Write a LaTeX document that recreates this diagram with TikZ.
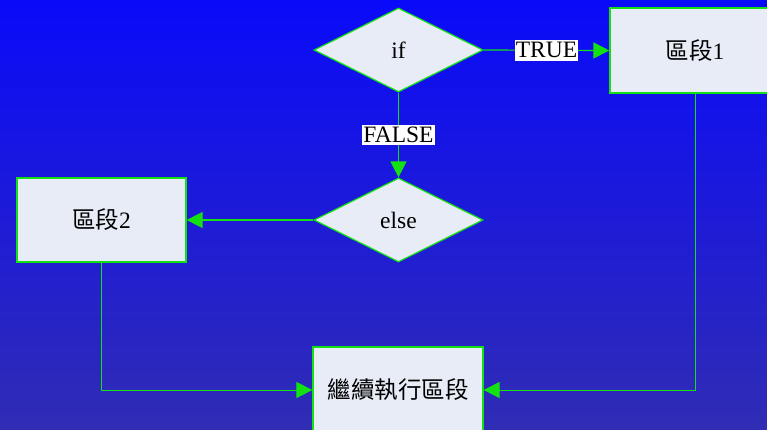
\documentclass[tikz,border=0pt]{standalone}
\usepackage{fontspec}
\setmainfont{Liberation Serif}
\newfontfamily\cjk{Noto Sans CJK TC}
\usetikzlibrary{shapes.geometric,arrows.meta}
\definecolor{bgtop}{RGB}{10,10,250}
\definecolor{bgbot}{RGB}{48,44,180}
\definecolor{boxfill}{RGB}{231,236,246}
\definecolor{lgreen}{RGB}{20,225,20}
\tikzset{
  x=1pt, y=-1pt,
  every node/.style={font=\fontsize{23.5}{26}\selectfont},
  decision/.style={diamond, draw=lgreen, line width=1.2pt, fill=boxfill, inner sep=0pt, minimum width=169pt, minimum height=84pt},
  blockbox/.style={rectangle, draw=lgreen, line width=1.2pt, fill=boxfill, inner sep=0pt, minimum width=170pt, minimum height=85pt},
  conn/.style={draw=lgreen, line width=1.2pt, -{Triangle[length=16pt,width=16pt]}},
  lbl/.style={fill=white, inner xsep=1pt, inner ysep=2.5pt, text=black}
}
\begin{document}
\begin{tikzpicture}
\shade[top color=bgtop, bottom color=bgbot] (0,0) rectangle (767,429);
\useasboundingbox (0,0) rectangle (767,429);
\node[decision] (if) at (398.5,50) {if};
\node[decision] (else) at (398.5,220) {else};
\node[blockbox] (b1) at (695,50.5) {{\cjk 區段}1};
\node[blockbox, minimum width=169pt, minimum height=84pt] (b2) at (101.5,220) {{\cjk 區段}2};
\node[blockbox, minimum height=86pt] (cont) at (398,390) {\cjk 繼續執行區段};
\draw[conn] (if.east) -- node[lbl] {TRUE} (b1.west);
\draw[conn] (if.south) -- node[lbl] {FALSE} (else.north);
\draw[conn] (else.west) -- (b2.east);
\draw[conn, line width=0.9pt] (b2.south) |- (cont.west);
\draw[conn, line width=0.9pt] (b1.south) |- (cont.east);
\end{tikzpicture}
\end{document}
